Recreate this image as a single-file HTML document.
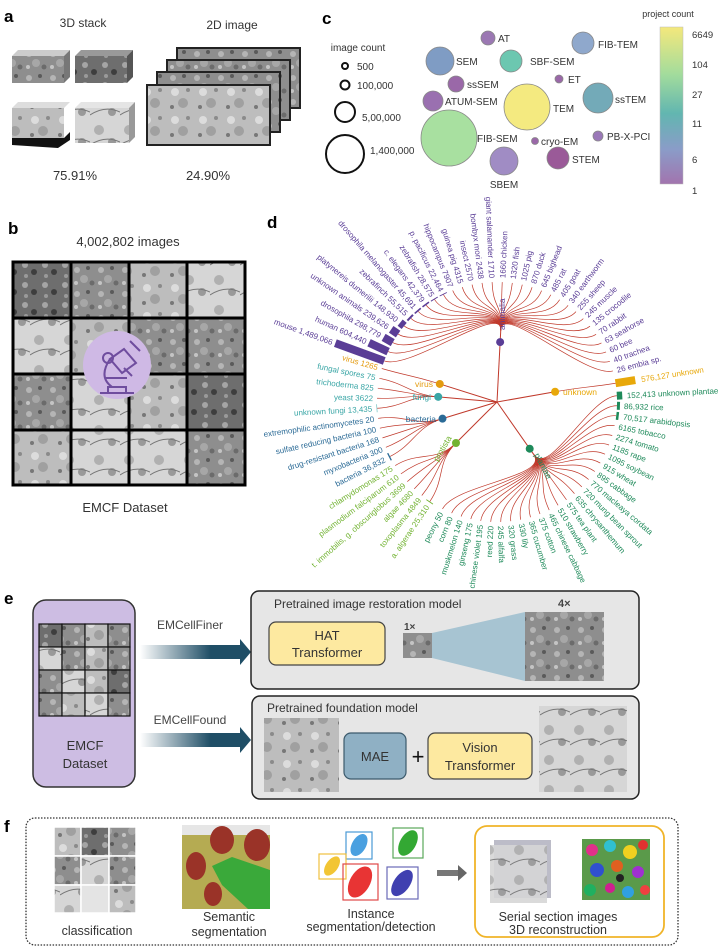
<!DOCTYPE html>
<html><head><meta charset="utf-8"><style>
html,body{margin:0;padding:0;background:#fff;}
svg{display:block;font-family:"Liberation Sans",Arial,sans-serif;}
</style></head><body>
<svg id="s" width="723" height="952" viewBox="0 0 723 952" xmlns="http://www.w3.org/2000/svg">
<defs>
<pattern id="em1" width="24" height="24" patternUnits="userSpaceOnUse"><rect width="24" height="24" fill="#8e8e8e"/><circle cx="5" cy="6" r="3" fill="#b5b5b5"/><circle cx="16" cy="4" r="2" fill="#5a5a5a"/><circle cx="12" cy="15" r="4" fill="#a7a7a7"/><circle cx="20" cy="19" r="2.5" fill="#6b6b6b"/><circle cx="4" cy="19" r="2" fill="#c4c4c4"/></pattern>
<pattern id="em2" width="28" height="28" patternUnits="userSpaceOnUse"><rect width="28" height="28" fill="#bdbdbd"/><circle cx="7" cy="8" r="4" fill="#dcdcdc"/><circle cx="20" cy="6" r="2" fill="#8a8a8a"/><circle cx="15" cy="19" r="5" fill="#a0a0a0"/><circle cx="4" cy="23" r="2" fill="#777"/></pattern>
<pattern id="em3" width="20" height="20" patternUnits="userSpaceOnUse"><rect width="20" height="20" fill="#6e6e6e"/><circle cx="5" cy="5" r="3" fill="#a5a5a5"/><circle cx="14" cy="12" r="3" fill="#3e3e3e"/><circle cx="6" cy="16" r="2" fill="#9a9a9a"/></pattern>
<pattern id="em4" width="30" height="30" patternUnits="userSpaceOnUse"><rect width="30" height="30" fill="#d6d6d6"/><circle cx="9" cy="10" r="5" fill="#b0b0b0"/><circle cx="22" cy="22" r="4" fill="#999"/><path d="M0 25 Q15 15 30 22" stroke="#777" fill="none"/></pattern>
<linearGradient id="cb" x1="0" y1="0" x2="0" y2="1"><stop offset="0" stop-color="#f4e87c"/><stop offset="0.3" stop-color="#a3dc9c"/><stop offset="0.55" stop-color="#62b6b0"/><stop offset="0.78" stop-color="#8a9cc8"/><stop offset="1" stop-color="#a274ae"/></linearGradient>
<linearGradient id="ar" x1="0" y1="0" x2="1" y2="0"><stop offset="0" stop-color="#1f4e66" stop-opacity="0"/><stop offset="0.7" stop-color="#1f4e66"/></linearGradient>
</defs>

<!-- panel a -->
<text x="4" y="22" font-size="17" font-weight="bold">a</text>
<text x="83" y="27" font-size="12" text-anchor="middle" fill="#333">3D stack</text>
<text x="232" y="29" font-size="12" text-anchor="middle" fill="#333">2D image</text>
<polygon points="12,56 18,50 70,50 64,56" fill="#ccc"/><rect x="12" y="56" width="52" height="27" fill="url(#em1)"/><polygon points="64,56 70,50 70,77 64,83" fill="#777"/>
<polygon points="75,56 81,50 133,50 127,56" fill="#999"/><rect x="75" y="56" width="52" height="27" fill="url(#em3)"/><polygon points="127,56 133,50 133,77 127,83" fill="#555"/>
<polygon points="12,108 18,102 70,102 64,108" fill="#ddd"/><rect x="12" y="108" width="52" height="30" fill="url(#em2)"/><polygon points="12,138 64,138 70,132 70,140 58,148 12,145" fill="#111"/>
<polygon points="75,108 81,102 135,102 129,108" fill="#e5e5e5"/><rect x="75" y="108" width="54" height="35" fill="url(#em4)"/><polygon points="129,108 135,102 135,137 129,143" fill="#999"/>
<rect x="177" y="48" width="123" height="60" fill="url(#em1)" stroke="#222" stroke-width="2"/>
<rect x="167" y="60" width="123" height="60" fill="url(#em1)" stroke="#222" stroke-width="2"/>
<rect x="157" y="72" width="123" height="60" fill="url(#em1)" stroke="#222" stroke-width="2"/>
<rect x="147" y="85" width="123" height="60" fill="url(#em2)" stroke="#222" stroke-width="2"/>
<text x="75" y="180" font-size="13" text-anchor="middle" fill="#333">75.91%</text>
<text x="208" y="180" font-size="13" text-anchor="middle" fill="#333">24.90%</text>

<!-- panel b -->
<text x="8" y="234" font-size="17" font-weight="bold">b</text>
<text x="128" y="246" font-size="13" text-anchor="middle" fill="#333">4,002,802 images</text>
<g stroke="#000" stroke-width="3">
<rect x="13" y="262" width="58" height="56" fill="url(#em3)"/><rect x="71" y="262" width="58" height="56" fill="url(#em1)"/><rect x="129" y="262" width="58" height="56" fill="url(#em2)"/><rect x="187" y="262" width="58" height="56" fill="url(#em4)"/>
<rect x="13" y="318" width="58" height="56" fill="url(#em4)"/><rect x="71" y="318" width="58" height="56" fill="url(#em2)"/><rect x="129" y="318" width="58" height="56" fill="url(#em1)"/><rect x="187" y="318" width="58" height="56" fill="url(#em1)"/>
<rect x="13" y="374" width="58" height="56" fill="url(#em1)"/><rect x="71" y="374" width="58" height="56" fill="url(#em4)"/><rect x="129" y="374" width="58" height="56" fill="url(#em2)"/><rect x="187" y="374" width="58" height="56" fill="url(#em3)"/>
<rect x="13" y="430" width="58" height="55" fill="url(#em2)"/><rect x="71" y="430" width="58" height="55" fill="url(#em4)"/><rect x="129" y="430" width="58" height="55" fill="url(#em4)"/><rect x="187" y="430" width="58" height="55" fill="url(#em1)"/>
</g>
<circle cx="117" cy="365" r="34" fill="#cfb9e5"/>
<g stroke="#6f4d9e" stroke-width="2" fill="none">
<path d="M100 393 h34 M108 393 v-6 h18 v6 M112 387 q-14 -10 -2 -28 M110 359 l14 -10 l12 14 l-14 10 z M124 368 l8 8 M105 378 h22"/><circle cx="108" cy="358" r="5"/><path d="M130 341 l10 10"/>
</g>
<text x="125" y="512" font-size="13" text-anchor="middle" fill="#333">EMCF Dataset</text>

<!-- panel c -->
<text x="322" y="24" font-size="17" font-weight="bold">c</text>
<text x="358" y="51" font-size="10" text-anchor="middle" fill="#333">image count</text>
<g fill="none" stroke="#111" stroke-width="2"><circle cx="345" cy="66" r="3"/><circle cx="345" cy="85" r="4.5"/><circle cx="345" cy="112" r="10"/><circle cx="345" cy="154" r="19"/></g>
<g font-size="10" fill="#333"><text x="357" y="70">500</text><text x="357" y="89">100,000</text><text x="362" y="121">5,00,000</text><text x="370" y="154">1,400,000</text></g>
<g stroke="#888" stroke-width="0.8">
<circle cx="449" cy="138" r="28" fill="#a8e0a0"/><circle cx="527" cy="107" r="23" fill="#f4ea80"/>
<circle cx="488" cy="38" r="7" fill="#9b78b3"/><circle cx="440" cy="61" r="14" fill="#7f9cc4"/><circle cx="511" cy="61" r="11" fill="#6cc7b0"/><circle cx="583" cy="43" r="11" fill="#8fa8cc"/>
<circle cx="456" cy="84" r="8" fill="#9a68a8"/><circle cx="559" cy="79" r="4" fill="#9a68a8"/><circle cx="433" cy="101" r="10" fill="#9a70b0"/><circle cx="598" cy="98" r="15" fill="#73aab8"/>
<circle cx="535" cy="141" r="3.5" fill="#9a68a8"/><circle cx="598" cy="136" r="5" fill="#9a78b8"/><circle cx="558" cy="158" r="11" fill="#9a5a98"/><circle cx="504" cy="161" r="14" fill="#a08cc4"/>
</g>
<g font-size="10" fill="#333">
<text x="498" y="42">AT</text><text x="456" y="65">SEM</text><text x="530" y="65">SBF-SEM</text><text x="598" y="48">FIB-TEM</text>
<text x="467" y="88">ssSEM</text><text x="568" y="83">ET</text><text x="445" y="105">ATUM-SEM</text><text x="553" y="112">TEM</text>
<text x="615" y="103">ssTEM</text><text x="477" y="142">FIB-SEM</text><text x="541" y="145">cryo-EM</text><text x="607" y="140">PB-X-PCI</text>
<text x="572" y="163">STEM</text><text x="504" y="188" text-anchor="middle">SBEM</text>
</g>
<text x="668" y="17" font-size="9" text-anchor="middle" fill="#333">project count</text>
<rect x="660" y="27" width="23" height="157" fill="url(#cb)" stroke="#bbb" stroke-width="0.5"/>
<g font-size="9.5" fill="#333"><text x="692" y="38">6649</text><text x="692" y="68">104</text><text x="692" y="98">27</text><text x="692" y="127">11</text><text x="692" y="163">6</text><text x="692" y="194">1</text></g>

<!-- panel d -->
<text x="267" y="228" font-size="17" font-weight="bold">d</text>
<g id="tree"></g>
<g font-size="8" fill="#5a3d96">
<text x="322" y="405" transform="rotate(20 497 402)" text-anchor="end">mouse 1,489,066</text>
<text x="353" y="405" transform="rotate(24.8 497 402)" text-anchor="end">human 604,440</text>
<text x="363" y="405" transform="rotate(29.7 497 402)" text-anchor="end">drosophila 298,779</text>
<text x="365" y="405" transform="rotate(34.5 497 402)" text-anchor="end">unknown animals 239,626</text>
<text x="368" y="405" transform="rotate(39.3 497 402)" text-anchor="end">platynereis dumerilii 148,930</text>
<text x="371" y="405" transform="rotate(44.2 497 402)" text-anchor="end">zebrafinch 55,515</text>
<text x="372" y="405" transform="rotate(49 497 402)" text-anchor="end">drosophila melanogaster 45,691</text>
<text x="372" y="405" transform="rotate(53.8 497 402)" text-anchor="end">c. elegans 42,379</text>
<text x="373" y="405" transform="rotate(58.7 497 402)" text-anchor="end">zebrafish 28,575</text>
<text x="373" y="405" transform="rotate(63.5 497 402)" text-anchor="end">p. pacificus 22,464</text>
<text x="373" y="405" transform="rotate(68.3 497 402)" text-anchor="end">hippocampus 7907</text>
<text x="373" y="405" transform="rotate(73.2 497 402)" text-anchor="end">guinea pig 4315</text>
<text x="373" y="405" transform="rotate(78 497 402)" text-anchor="end">insect 2570</text>
<text x="373" y="405" transform="rotate(82.8 497 402)" text-anchor="end">bombyx mori 2438</text>
<text x="373" y="405" transform="rotate(87.7 497 402)" text-anchor="end">giant salamander 1710</text>
<text x="621" y="405" transform="rotate(-87.5 497 402)">1660 chicken</text>
<text x="621" y="405" transform="rotate(-82.7 497 402)">1320 fish</text>
<text x="621" y="405" transform="rotate(-77.8 497 402)">1025 pig</text>
<text x="621" y="405" transform="rotate(-73 497 402)">870 duck</text>
<text x="621" y="405" transform="rotate(-68.2 497 402)">645 bighead</text>
<text x="621" y="405" transform="rotate(-63.3 497 402)">485 rat</text>
<text x="621" y="405" transform="rotate(-58.5 497 402)">405 goat</text>
<text x="621" y="405" transform="rotate(-53.7 497 402)">340 earthworm</text>
<text x="621" y="405" transform="rotate(-48.8 497 402)">255 sheep</text>
<text x="621" y="405" transform="rotate(-44 497 402)">245 muscle</text>
<text x="621" y="405" transform="rotate(-39.2 497 402)">135 crocodile</text>
<text x="621" y="405" transform="rotate(-34.3 497 402)">70 rabbit</text>
<text x="621" y="405" transform="rotate(-29.5 497 402)">63 seahorse</text>
<text x="621" y="405" transform="rotate(-24.7 497 402)">60 bee</text>
<text x="621" y="405" transform="rotate(-19.8 497 402)">40 trachea</text>
<text x="621" y="405" transform="rotate(-15 497 402)">26 embia sp.</text>
</g>
<text x="643" y="405" transform="rotate(-9 497 402)" font-size="8" fill="#e8a80a">576,127 unknown</text>
<g font-size="8" fill="#1e8a5a">
<text x="627" y="405" transform="rotate(-3 497 402)">152,413 unknown plantae</text>
<text x="624" y="405" transform="rotate(1.8 497 402)">86,932 rice</text>
<text x="624" y="405" transform="rotate(6.6 497 402)">70,517 arabidopsis</text>
<text x="621" y="405" transform="rotate(11.4 497 402)">6165 tobacco</text>
<text x="621" y="405" transform="rotate(16.2 497 402)">2274 tomato</text>
<text x="621" y="405" transform="rotate(21 497 402)">1185 rape</text>
<text x="621" y="405" transform="rotate(25.8 497 402)">1095 soybean</text>
<text x="621" y="405" transform="rotate(30.6 497 402)">915 wheat</text>
<text x="621" y="405" transform="rotate(35.4 497 402)">895 cabbage</text>
<text x="621" y="405" transform="rotate(40.2 497 402)">770 macleaya cordata</text>
<text x="621" y="405" transform="rotate(45 497 402)">720 mung bean sprout</text>
<text x="621" y="405" transform="rotate(49.8 497 402)">635 chrysanthemum</text>
<text x="621" y="405" transform="rotate(54.6 497 402)">575 tea plant</text>
<text x="621" y="405" transform="rotate(59.4 497 402)">510 strawberry</text>
<text x="621" y="405" transform="rotate(64.2 497 402)">465 chinese cabbage</text>
<text x="621" y="405" transform="rotate(69 497 402)">375 cotton</text>
<text x="621" y="405" transform="rotate(73.8 497 402)">365 cucumber</text>
<text x="621" y="405" transform="rotate(78.6 497 402)">330 lily</text>
<text x="621" y="405" transform="rotate(83.4 497 402)">320 grass</text>
<text x="621" y="405" transform="rotate(88.2 497 402)">245 alfalfa</text>
<text x="373" y="405" transform="rotate(-87 497 402)" text-anchor="end">reed 220</text>
<text x="373" y="405" transform="rotate(-82.2 497 402)" text-anchor="end">chinese violet 195</text>
<text x="373" y="405" transform="rotate(-77.4 497 402)" text-anchor="end">ginseng 175</text>
<text x="373" y="405" transform="rotate(-72.6 497 402)" text-anchor="end">muskmelon 140</text>
<text x="373" y="405" transform="rotate(-67.8 497 402)" text-anchor="end">corn 80</text>
<text x="373" y="405" transform="rotate(-63 497 402)" text-anchor="end">peony 50</text>
</g>
<g font-size="8" fill="#72b332">
<text x="372" y="405" transform="rotate(-56 497 402)" text-anchor="end">a. algerae 25,310</text>
<text x="373" y="405" transform="rotate(-51.2 497 402)" text-anchor="end">toxoplasma 4849</text>
<text x="373" y="405" transform="rotate(-46.4 497 402)" text-anchor="end">algae 4680</text>
<text x="373" y="405" transform="rotate(-41.6 497 402)" text-anchor="end">t. immobilis, g. obscuriglobus 3699</text>
<text x="373" y="405" transform="rotate(-36.8 497 402)" text-anchor="end">plasmodium falciparum 610</text>
<text x="373" y="405" transform="rotate(-32 497 402)" text-anchor="end">chlamydomonas 175</text>
</g>
<g font-size="8" fill="#2a6a96">
<text x="371" y="405" transform="rotate(-27 497 402)" text-anchor="end">bacteria 36,832</text>
<text x="373" y="405" transform="rotate(-22.2 497 402)" text-anchor="end">myxobacteria 300</text>
<text x="373" y="405" transform="rotate(-17.4 497 402)" text-anchor="end">drug-resistant bacteria 168</text>
<text x="373" y="405" transform="rotate(-12.6 497 402)" text-anchor="end">sulfate reducing bacteria 100</text>
<text x="373" y="405" transform="rotate(-7.8 497 402)" text-anchor="end">extremophilic actinomycetes 20</text>
</g>
<g font-size="8" fill="#3aa6a6">
<text x="372" y="405" transform="rotate(-3 497 402)" text-anchor="end">unknown fungi 13,435</text>
<text x="373" y="405" transform="rotate(1.8 497 402)" text-anchor="end">yeast 3622</text>
<text x="373" y="405" transform="rotate(6.6 497 402)" text-anchor="end">trichoderma 825</text>
<text x="373" y="405" transform="rotate(11.4 497 402)" text-anchor="end">fungal spores 75</text>
</g>
<text x="373" y="405" transform="rotate(16.2 497 402)" text-anchor="end" font-size="8" fill="#e49b0f">virus 1265</text>
<g font-size="8.5">
<text x="505" y="330" transform="rotate(-90 505 330)" fill="#5a3d96">animalia</text>
<text x="433" y="387" text-anchor="end" fill="#e49b0f">virus</text>
<text x="431" y="400" text-anchor="end" fill="#3aa6a6">fungi</text>
<text x="436" y="422" text-anchor="end" fill="#2a6a96">bacteria</text>
<text x="438" y="462" transform="rotate(-60 438 462)" fill="#72b332">protista</text>
<text x="534" y="455" transform="rotate(62 534 455)" fill="#1e8a5a">plantae</text>
<text x="563" y="395" fill="#e8a80a">unknown</text>
</g>

<!-- panel e -->
<text x="4" y="604" font-size="17" font-weight="bold">e</text>
<rect x="33" y="600" width="102" height="187" rx="13" fill="#cdbde3" stroke="#333" stroke-width="1.5"/>
<g stroke="#111" stroke-width="1.2">
<rect x="39" y="624" width="23" height="23" fill="url(#em3)"/><rect x="62" y="624" width="23" height="23" fill="url(#em1)"/><rect x="85" y="624" width="23" height="23" fill="url(#em2)"/><rect x="108" y="624" width="22" height="23" fill="url(#em1)"/>
<rect x="39" y="647" width="23" height="23" fill="url(#em4)"/><rect x="62" y="647" width="23" height="23" fill="url(#em1)"/><rect x="85" y="647" width="23" height="23" fill="url(#em2)"/><rect x="108" y="647" width="22" height="23" fill="url(#em1)"/>
<rect x="39" y="670" width="23" height="23" fill="url(#em1)"/><rect x="62" y="670" width="23" height="23" fill="url(#em4)"/><rect x="85" y="670" width="23" height="23" fill="url(#em2)"/><rect x="108" y="670" width="22" height="23" fill="url(#em3)"/>
<rect x="39" y="693" width="23" height="23" fill="url(#em1)"/><rect x="62" y="693" width="23" height="23" fill="url(#em2)"/><rect x="85" y="693" width="23" height="23" fill="url(#em4)"/><rect x="108" y="693" width="22" height="23" fill="url(#em1)"/>
</g>
<text x="85" y="750" font-size="13" text-anchor="middle" fill="#333">EMCF</text>
<text x="85" y="768" font-size="13" text-anchor="middle" fill="#333">Dataset</text>
<text x="190" y="629" font-size="12" text-anchor="middle" fill="#444">EMCellFiner</text>
<text x="190" y="724" font-size="12" text-anchor="middle" fill="#444">EMCellFound</text>
<rect x="140" y="645" width="101" height="14" fill="url(#ar)"/><polygon points="240,639 251,652 240,665" fill="#1f4e66"/>
<rect x="140" y="733" width="101" height="14" fill="url(#ar)"/><polygon points="240,727 251,740 240,753" fill="#1f4e66"/>
<rect x="251" y="591" width="388" height="98" rx="8" fill="#e6e6e6" stroke="#222" stroke-width="1.5"/>
<text x="274" y="608" font-size="12" fill="#333">Pretrained image restoration model</text>
<text x="558" y="607" font-size="11" font-weight="bold" fill="#444">4×</text>
<rect x="269" y="622" width="116" height="43" rx="7" fill="#fde9a0" stroke="#444" stroke-width="1.2"/>
<text x="327" y="640" font-size="13" text-anchor="middle" fill="#333">HAT</text>
<text x="327" y="657" font-size="13" text-anchor="middle" fill="#333">Transformer</text>
<text x="404" y="630" font-size="10" font-weight="bold" fill="#444">1×</text>
<polygon points="432,633 525,612 525,681 432,658" fill="#a7c4d2"/>
<rect x="403" y="633" width="29" height="25" fill="url(#em1)"/>
<rect x="525" y="612" width="79" height="69" fill="url(#em1)"/>
<rect x="252" y="696" width="387" height="103" rx="8" fill="#e6e6e6" stroke="#222" stroke-width="1.5"/>
<text x="267" y="712" font-size="12" fill="#333">Pretrained foundation model</text>
<rect x="264" y="718" width="75" height="74" fill="url(#em2)"/>
<rect x="344" y="733" width="62" height="46" rx="7" fill="#8fb0c4" stroke="#3c5a6c" stroke-width="1.2"/>
<text x="375" y="761" font-size="13" text-anchor="middle" fill="#333">MAE</text>
<text x="418" y="764" font-size="22" text-anchor="middle" fill="#111">+</text>
<rect x="428" y="733" width="104" height="46" rx="7" fill="#fde9a0" stroke="#444" stroke-width="1.2"/>
<text x="480" y="752" font-size="13" text-anchor="middle" fill="#333">Vision</text>
<text x="480" y="770" font-size="13" text-anchor="middle" fill="#333">Transformer</text>
<rect x="539" y="706" width="88" height="86" fill="url(#em4)"/>

<!-- panel f -->
<text x="4" y="832" font-size="17" font-weight="bold">f</text>
<rect x="26" y="818" width="652" height="127" rx="9" fill="none" stroke="#333" stroke-width="1.3" stroke-dasharray="1.5 1.5"/>
<g stroke="#fff" stroke-width="1.5">
<rect x="54" y="827" width="27" height="29" fill="url(#em2)"/><rect x="81" y="827" width="28" height="29" fill="url(#em3)"/><rect x="109" y="827" width="27" height="29" fill="url(#em1)"/>
<rect x="54" y="856" width="27" height="29" fill="url(#em1)"/><rect x="81" y="856" width="28" height="29" fill="url(#em4)"/><rect x="109" y="856" width="27" height="29" fill="url(#em1)"/>
<rect x="54" y="885" width="27" height="28" fill="url(#em4)"/><rect x="81" y="885" width="28" height="28" fill="#e4e4e4"/><rect x="109" y="885" width="27" height="28" fill="url(#em2)"/>
</g>
<text x="97" y="935" font-size="12.5" text-anchor="middle" fill="#333">classification</text>
<rect x="182" y="825" width="88" height="84" fill="#b5ab52"/>
<rect x="182" y="825" width="88" height="10" fill="#e6e6e6"/>
<g fill="#9a3328"><ellipse cx="222" cy="840" rx="12" ry="14"/><ellipse cx="257" cy="845" rx="13" ry="16"/><ellipse cx="196" cy="866" rx="10" ry="14"/><ellipse cx="213" cy="894" rx="9" ry="12"/></g>
<polygon points="212,866 232,857 270,870 270,909 248,909 222,885" fill="#3aa93a"/>
<text x="229" y="921" font-size="12.5" text-anchor="middle" fill="#333">Semantic</text>
<text x="229" y="936" font-size="12.5" text-anchor="middle" fill="#333">segmentation</text>
<rect x="346" y="832" width="26" height="27" fill="none" stroke="#4a9ad6" stroke-width="1.2"/><ellipse cx="359" cy="845" rx="7" ry="12" transform="rotate(30 359 845)" fill="#4aa0e0"/>
<rect x="393" y="828" width="30" height="30" fill="none" stroke="#5aa85a" stroke-width="1.2"/><ellipse cx="408" cy="843" rx="8" ry="14" transform="rotate(30 408 843)" fill="#33a833"/>
<rect x="319" y="854" width="27" height="25" fill="none" stroke="#f0c040" stroke-width="1.2"/><ellipse cx="332" cy="866" rx="6" ry="11" transform="rotate(35 332 866)" fill="#f2c534"/>
<rect x="343" y="864" width="35" height="36" fill="none" stroke="#e04848" stroke-width="1.2"/><ellipse cx="360" cy="882" rx="10" ry="17" transform="rotate(30 360 882)" fill="#e83434"/>
<rect x="387" y="867" width="31" height="32" fill="none" stroke="#6a6ab8" stroke-width="1.2"/><ellipse cx="402" cy="883" rx="8" ry="15" transform="rotate(35 402 883)" fill="#4040b0"/>
<text x="371" y="918" font-size="12.5" text-anchor="middle" fill="#333">Instance</text>
<text x="371" y="931" font-size="12.5" text-anchor="middle" fill="#333">segmentation/detection</text>
<rect x="437" y="870" width="22" height="6" fill="#777"/><polygon points="458,865 467,873 458,881" fill="#666"/>
<rect x="475" y="826" width="189" height="111" rx="12" fill="none" stroke="#f0b429" stroke-width="1.8"/>
<rect x="494" y="840" width="57" height="58" fill="#bcbcc8"/><rect x="490" y="845" width="57" height="58" fill="url(#em4)" opacity="0.9"/>
<rect x="582" y="839" width="68" height="61" fill="#5a9a4a"/>
<g><circle cx="592" cy="850" r="6" fill="#e0308a"/><circle cx="610" cy="846" r="6" fill="#30c0d0"/><circle cx="630" cy="852" r="7" fill="#f0d020"/><circle cx="643" cy="845" r="5" fill="#e03030"/><circle cx="597" cy="870" r="7" fill="#3050d0"/><circle cx="617" cy="866" r="6" fill="#e06020"/><circle cx="638" cy="872" r="6" fill="#a030d0"/><circle cx="590" cy="890" r="6" fill="#20b060"/><circle cx="610" cy="888" r="5" fill="#d02090"/><circle cx="628" cy="892" r="6" fill="#30a0e0"/><circle cx="645" cy="890" r="5" fill="#f04040"/><circle cx="620" cy="878" r="4" fill="#222"/></g>
<text x="558" y="921" font-size="12.5" text-anchor="middle" fill="#333">Serial section images</text>
<text x="558" y="934" font-size="12.5" text-anchor="middle" fill="#333">3D reconstruction</text>
</svg>
<script>
(function(){
var cx=497,cy=402,NS="http://www.w3.org/2000/svg",g=document.getElementById("tree");
function P(r,a){a=a*Math.PI/180;return [cx+r*Math.cos(a),cy+r*Math.sin(a)];}
function el(t,at){var e=document.createElementNS(NS,t);for(var k in at)e.setAttribute(k,at[k]);g.appendChild(e);return e;}
function rng(s,n,st){var o=[];for(var i=0;i<n;i++)o.push(s+i*st);return o;}
var anim=rng(-160,31,4.833),animB=[52,21,10.5,8.4,5.2,2,1.6,1.5,1,0.8];
var plant=rng(-3,26,4.8),plantB=[5.4,3,2.5];
var prot=[124,128.8,133.6,138.4,143.2,148],protB=[0.9];
var bact=[153,157.8,162.6,167.4,172.2],bactB=[1.3];
var fung=[177,181.8,186.6,191.4];
var G=[
{a:-87,r:60,hr:72,c:"#5a3d96",L:anim,B:animB},
{a:197.5,r:60,hr:60,c:"#e49b0f",L:[196.2],B:[]},
{a:185,r:59,hr:59,c:"#3aa6a6",L:fung,B:[0.5]},
{a:163,r:57,hr:57,c:"#2a6a96",L:bact,B:bactB},
{a:135,r:58,hr:58,c:"#72b332",L:prot,B:protB},
{a:55,r:57,hr:64,c:"#1e8a5a",L:plant,B:plantB},
{a:-10,r:59,hr:59,c:"#e8a80a",L:[-9],B:[20]}];
G.forEach(function(o){
 var n=P(o.r,o.a),h=P(o.hr,o.a);
 el("line",{x1:cx,y1:cy,x2:h[0],y2:h[1],stroke:"#c0392b","stroke-width":1});
 o.L.forEach(function(a,i){
  var e=P(120,a),c1=P(o.hr+28,o.a),c2=P(92,a);
  el("path",{d:"M"+h[0]+","+h[1]+" C"+c1[0]+","+c1[1]+" "+c2[0]+","+c2[1]+" "+e[0]+","+e[1],fill:"none",stroke:"#c0392b","stroke-width":0.7});
  var b=o.B[i]||0;
  if(b>0.4){var s=P(120,a),t=P(120+b,a);el("line",{x1:s[0],y1:s[1],x2:t[0],y2:t[1],stroke:o.c,"stroke-width":8});}
 });
 el("circle",{cx:n[0],cy:n[1],r:4,fill:o.c});
});
})();
</script>
</body></html>
